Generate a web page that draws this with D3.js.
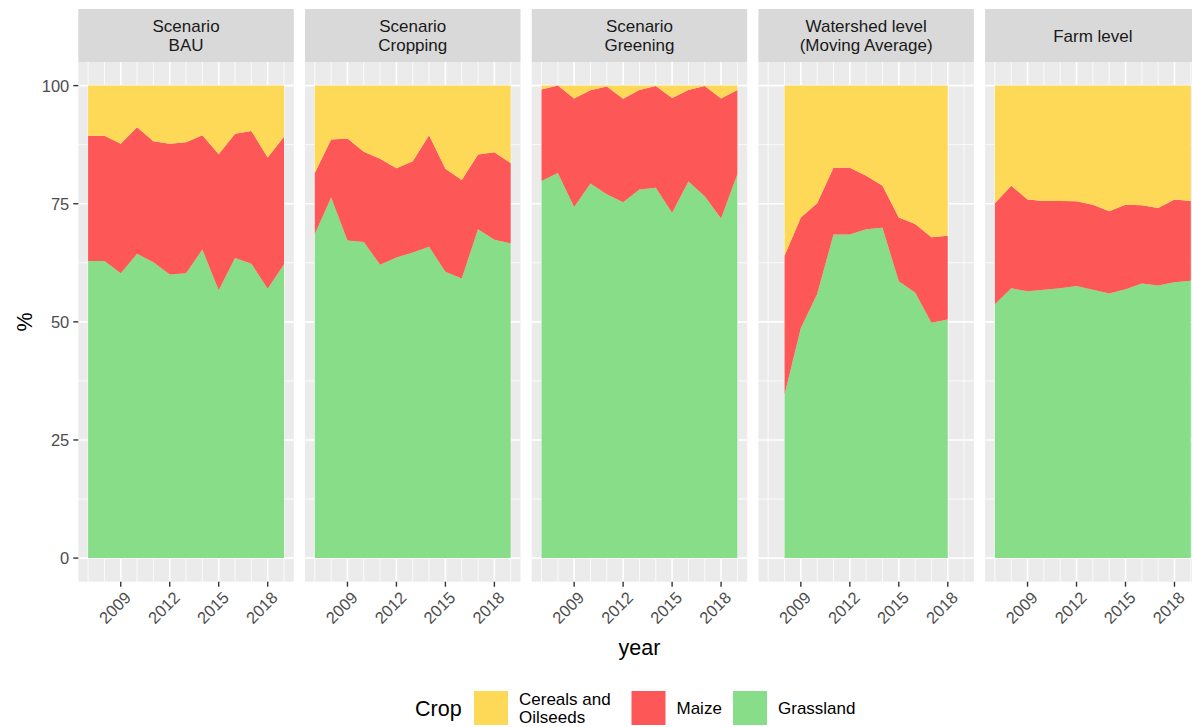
<!DOCTYPE html>
<html>
<head>
<meta charset="utf-8">
<script src="https://cdn.jsdelivr.net/npm/d3@7"></script>
<style>
  body { margin: 0; background: #fff; }
  svg { display: block; font-family: "Liberation Sans", Arial, sans-serif; }
</style>
</head>
<body>
<script>
// crops, bottom to top in the stack
const crops = ['Grassland', 'Maize', 'Cereals and Oilseeds'];
const cropColors = ['#88DD88', '#FE5757', '#FED957'];

const yearsFull = [2007, 2008, 2009, 2010, 2011, 2012, 2013, 2014, 2015, 2016, 2017, 2018, 2019];
const yearsWatershed = [2008, 2009, 2010, 2011, 2012, 2013, 2014, 2015, 2016, 2017, 2018];

// shares in % per panel
const bauGrass   = [62.9, 62.9, 60.3, 64.4, 62.6, 60.0, 60.3, 65.3, 56.7, 63.5, 62.3, 57.0, 62.2];
const bauMaize   = [26.5, 26.5, 27.4, 26.8, 25.6, 27.7, 27.7, 24.2, 28.8, 26.3, 28.1, 27.8, 27.0];
const bauCereals = [10.6, 10.6, 12.3, 8.8, 11.8, 12.3, 12.0, 10.5, 14.5, 10.2, 9.6, 15.2, 10.8];

const cropGrass   = [68.6, 76.3, 67.2, 66.9, 62.1, 63.6, 64.7, 65.9, 60.6, 59.2, 69.6, 67.4, 66.6];
const cropMaize   = [12.9, 12.3, 21.6, 19.1, 22.4, 18.9, 19.3, 23.6, 21.8, 20.8, 15.8, 18.5, 17.0];
const cropCereals = [18.5, 11.4, 11.2, 14.0, 15.5, 17.5, 16.0, 10.5, 17.6, 20.0, 14.6, 14.1, 16.4];

const greenGrass   = [79.8, 81.5, 74.3, 79.3, 77.0, 75.3, 78.0, 78.4, 73.1, 79.7, 76.6, 71.9, 81.3];
const greenMaize   = [19.4, 18.5, 23.0, 19.7, 22.8, 21.9, 21.1, 21.5, 24.3, 19.4, 23.3, 25.4, 17.8];
const greenCereals = [0.8, 0.0, 2.7, 1.0, 0.2, 2.8, 0.9, 0.1, 2.6, 0.9, 0.1, 2.7, 0.9];

const wsGrass   = [34.6, 48.7, 55.9, 68.5, 68.5, 69.6, 69.9, 58.6, 56.2, 49.8, 50.5];
const wsMaize   = [29.4, 23.4, 19.2, 14.1, 14.1, 11.3, 8.9, 13.5, 14.5, 18.1, 17.7];
const wsCereals = [36.0, 27.9, 24.9, 17.4, 17.4, 19.1, 21.2, 27.9, 29.3, 32.1, 31.8];

const farmGrass   = [53.7, 57.1, 56.5, 56.8, 57.1, 57.6, 56.8, 56.0, 56.9, 58.1, 57.7, 58.4, 58.7];
const farmMaize   = [21.4, 21.7, 19.4, 18.8, 18.5, 17.9, 18.0, 17.4, 17.9, 16.6, 16.4, 17.5, 16.9];
const farmCereals = [24.9, 21.2, 24.1, 24.4, 24.4, 24.5, 25.2, 26.6, 25.2, 25.3, 25.9, 24.1, 24.4];

const panelTitles = [
  ['Scenario', 'BAU'],
  ['Scenario', 'Cropping'],
  ['Scenario', 'Greening'],
  ['Watershed level', '(Moving Average)'],
  ['Farm level']
];
const panelYears = [yearsFull, yearsFull, yearsFull, yearsWatershed, yearsFull];
const panelSeries = [
  [bauGrass, bauMaize, bauCereals],
  [cropGrass, cropMaize, cropCereals],
  [greenGrass, greenMaize, greenCereals],
  [wsGrass, wsMaize, wsCereals],
  [farmGrass, farmMaize, farmCereals]
];

const xTicks = [2009, 2012, 2015, 2018];
const yTicks = [0, 25, 50, 75, 100];
const legendLabels = [['Cereals and', 'Oilseeds'], ['Maize'], ['Grassland']];

const W = 1192, H = 727;
const svg = d3.select('body').append('svg').attr('width', W).attr('height', H);

const panelLeft = 78.3, panelStep = 226.7, panelW = 215.5;
const stripTop = 9, panelTop = 62, panelBottom = 581.7;

const y = d3.scaleLinear().domain([-5, 105]).range([panelBottom, panelTop]);

panelTitles.forEach((title, p) => {
  const x0 = panelLeft + p * panelStep;
  const x = d3.scaleLinear().domain([2006.4, 2019.6]).range([x0, x0 + panelW]);
  const g = svg.append('g');

  // strip
  g.append('rect').attr('x', x0).attr('y', stripTop).attr('width', panelW)
    .attr('height', panelTop - stripTop).attr('fill', '#D9D9D9');
  const st = g.append('text').attr('text-anchor', 'middle').attr('fill', '#1A1A1A')
    .attr('font-size', 17);
  const midStrip = (stripTop + panelTop) / 2;
  title.forEach((line, i) => {
    const off = (i - (title.length - 1) / 2) * 18.5;
    st.append('tspan').attr('x', x0 + panelW / 2).attr('y', midStrip + off + 6).text(line);
  });

  // panel background
  g.append('rect').attr('x', x0).attr('y', panelTop).attr('width', panelW)
    .attr('height', panelBottom - panelTop).attr('fill', '#EBEBEB');

  // grid
  const minorY = [12.5, 37.5, 62.5, 87.5];
  g.selectAll('.gym').data(minorY).join('line')
    .attr('x1', x0).attr('x2', x0 + panelW).attr('y1', d => y(d)).attr('y2', d => y(d))
    .attr('stroke', '#fff').attr('stroke-width', 0.8);
  g.selectAll('.gyM').data(yTicks).join('line')
    .attr('x1', x0).attr('x2', x0 + panelW).attr('y1', d => y(d)).attr('y2', d => y(d))
    .attr('stroke', '#fff').attr('stroke-width', 1.6);
  const minorX = yearsFull.filter(d => !xTicks.includes(d));
  g.selectAll('.gxm').data(minorX).join('line')
    .attr('y1', panelTop).attr('y2', panelBottom).attr('x1', d => x(d)).attr('x2', d => x(d))
    .attr('stroke', '#fff').attr('stroke-width', 0.8);
  g.selectAll('.gxM').data(xTicks).join('line')
    .attr('y1', panelTop).attr('y2', panelBottom).attr('x1', d => x(d)).attr('x2', d => x(d))
    .attr('stroke', '#fff').attr('stroke-width', 1.6);

  // stacked areas
  const years = panelYears[p];
  const series = panelSeries[p];
  const rows = years.map((yr, i) => {
    const r = { year: yr };
    crops.forEach((c, k) => { r[c] = series[k][i]; });
    return r;
  });
  const stacked = d3.stack().keys(crops)(rows);
  const area = d3.area()
    .x(d => x(d.data.year))
    .y0(d => y(d[0]))
    .y1(d => y(d[1]));
  g.selectAll('.layer').data(stacked).join('path')
    .attr('d', area)
    .attr('fill', (d, i) => cropColors[i]);

  // x axis ticks
  g.selectAll('.xt').data(xTicks).join('line')
    .attr('x1', d => x(d)).attr('x2', d => x(d))
    .attr('y1', panelBottom).attr('y2', panelBottom + 5)
    .attr('stroke', '#333').attr('stroke-width', 1.4);
  g.selectAll('.xl').data(xTicks).join('text')
    .attr('transform', d => `translate(${x(d) + 3},${panelBottom + 9}) rotate(-45)`)
    .attr('text-anchor', 'end').attr('dy', '0.7em')
    .attr('font-size', 16.5).attr('fill', '#4D4D4D')
    .text(d => d);
});

// y axis on first panel
const ya = svg.append('g');
ya.selectAll('line').data(yTicks).join('line')
  .attr('x1', panelLeft - 5).attr('x2', panelLeft)
  .attr('y1', d => y(d)).attr('y2', d => y(d))
  .attr('stroke', '#333').attr('stroke-width', 1.4);
ya.selectAll('text').data(yTicks).join('text')
  .attr('x', panelLeft - 9).attr('y', d => y(d)).attr('dy', '0.36em')
  .attr('text-anchor', 'end').attr('font-size', 16.5).attr('fill', '#4D4D4D')
  .text(d => d);

svg.append('text')
  .attr('transform', `translate(32,${y(50)}) rotate(-90)`)
  .attr('text-anchor', 'middle').attr('font-size', 21.5).attr('fill', '#000')
  .text('%');

svg.append('text')
  .attr('x', (panelLeft + panelLeft + 4 * panelStep + panelW) / 2).attr('y', 655)
  .attr('text-anchor', 'middle').attr('font-size', 21.5).attr('fill', '#000')
  .text('year');

// legend
const lg = svg.append('g');
lg.append('text').attr('x', 415).attr('y', 716).attr('font-size', 21.5).text('Crop');
const keyX = [474, 631.5, 733];
const legendColors = [cropColors[2], cropColors[1], cropColors[0]];
legendLabels.forEach((lab, i) => {
  lg.append('rect').attr('x', keyX[i]).attr('y', 691).attr('width', 34).attr('height', 34)
    .attr('fill', legendColors[i]);
  const t = lg.append('text').attr('font-size', 17).attr('fill', '#000');
  lab.forEach((line, j) => {
    const off = (j - (lab.length - 1) / 2) * 18.5;
    t.append('tspan').attr('x', keyX[i] + 45).attr('y', 708 + off + 6).text(line);
  });
});
</script>
</body>
</html>
